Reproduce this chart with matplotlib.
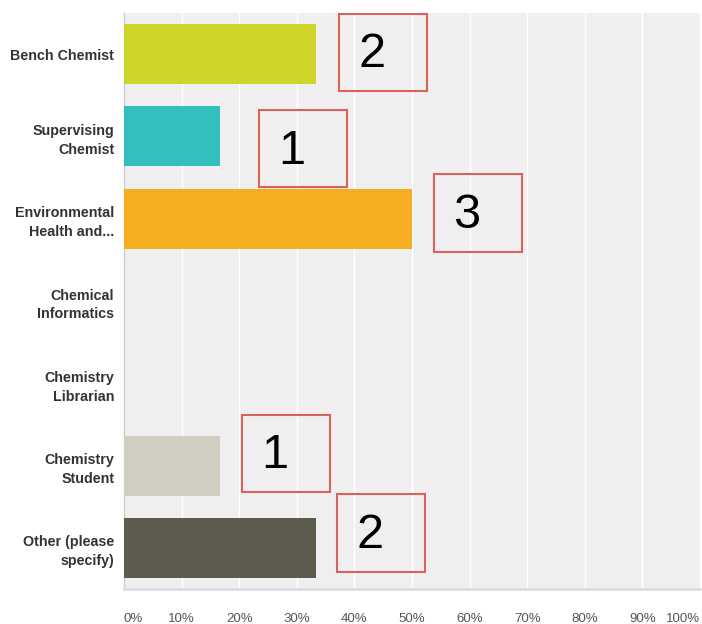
import matplotlib.pyplot as plt
from matplotlib import font_manager
from matplotlib.patches import Rectangle

categories = ['Bench Chemist', 'Supervising\nChemist', 'Environmental\nHealth and...',
              'Chemical\nInformatics', 'Chemistry\nLibrarian', 'Chemistry\nStudent',
              'Other (please\nspecify)']
percent = [33.33, 16.67, 50.0, 0, 0, 16.67, 33.33]
counts = [2, 1, 3, 0, 0, 1, 2]
colors = ['#CED52A', '#33BEC0', '#F6AE21', '#CCCCCC', '#CCCCCC', '#CFCEC0', '#5C5B4D']
ticks = [0, 10, 20, 30, 40, 50, 60, 70, 80, 90, 100]
tick_labels = ['0%', '10%', '20%', '30%', '40%', '50%', '60%', '70%', '80%', '90%', '100%']

# hand placed count boxes: offset from bar end (x, %) and from bar centre (y, rows)
box_dx = [4.0, 6.8, 3.8, 0, 0, 3.8, 3.7]
box_dy = [-0.02, 0.15, -0.07, 0, 0, -0.15, -0.18]
box_w, box_h = 15.3, 0.94

# pick a narrow font if there is one, sizes tuned so the labels keep their width
installed = {f.name for f in font_manager.fontManager.ttflist}
if 'Liberation Sans Narrow' in installed:
    lab_font, lab_size, tick_size, lsp = 'Liberation Sans Narrow', 12, 11, 1.2
elif 'DejaVu Sans Condensed' in installed:
    lab_font, lab_size, tick_size, lsp = 'DejaVu Sans Condensed', 10, 9.5, 1.4
else:
    lab_font, lab_size, tick_size, lsp = 'Liberation Sans', 10.3, 9.5, 1.45
lab_family = [lab_font, 'DejaVu Sans']

fig = plt.figure(figsize=(7.02, 6.24), dpi=100)
ax = fig.add_axes([124/702, 35/624, 576/702, 576/624])
ax.set_facecolor('#EFEFEF')

y = range(len(categories))
ax.barh(y, percent, height=0.73, color=colors, zorder=3)

ax.set_xlim(0, 100)
ax.set_ylim(6.5, -0.5)
ax.grid(axis='x', color='white', linewidth=1.0, zorder=1)
ax.set_xticks(ticks)
ax.set_xticklabels(tick_labels, family=lab_family, fontsize=tick_size, color='#555555')
lbls = ax.get_xticklabels()
lbls[0].set_ha('left')
lbls[-1].set_ha('right')
ax.tick_params(axis='x', length=0, pad=17)

ax.set_yticks(list(y))
ax.set_yticklabels(categories, family=lab_family, fontweight='bold', fontsize=lab_size,
                   color='#333333', linespacing=lsp)
ax.tick_params(axis='y', length=0, pad=7)

for s in ['top', 'right']:
    ax.spines[s].set_visible(False)
ax.spines['left'].set_color('#CCCCCC')
ax.spines['left'].set_linewidth(1)
ax.spines['bottom'].set_color('#DDDDDD')
ax.spines['bottom'].set_linewidth(2)

for i, n in enumerate(counts):
    if n == 0:
        continue
    x0 = percent[i] + box_dx[i]
    yc = i + box_dy[i]
    ax.add_patch(Rectangle((x0, yc - box_h/2), box_w, box_h, fill=False,
                           edgecolor='#D9625A', linewidth=1.5, zorder=5, clip_on=False))
    ax.text(x0 + 5.7, yc + 0.03, str(n), fontsize=35, family='Liberation Sans',
            ha='center', va='center', color='black', zorder=6)

fig.savefig('out.png', dpi=100)
